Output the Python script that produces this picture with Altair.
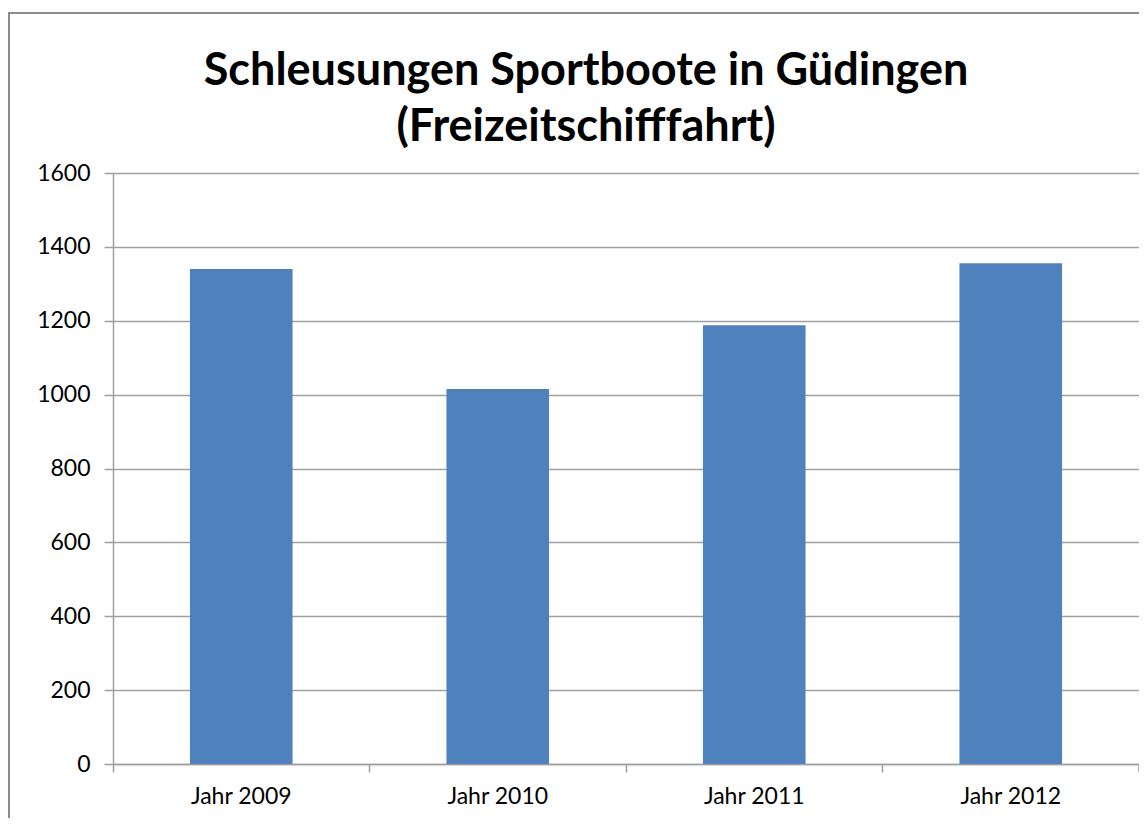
import altair as alt
import pandas as pd

categories = ["Jahr 2009", "Jahr 2010", "Jahr 2011", "Jahr 2012"]
values = [1340, 1015, 1188, 1356]
y_ticks = [0, 200, 400, 600, 800, 1000, 1200, 1400, 1600]
title_lines = ["Schleusungen Sportboote in Güdingen", "(Freizeitschifffahrt)"]

df = pd.DataFrame({"Jahr": categories, "Anzahl": values})

W = 1026
H = 591
FONT = "Lato"
GRID = "#a0a0a0"

bars = alt.Chart(df).mark_bar(
    color="#4f81bd", width=alt.RelativeBandSize(0.4)
).encode(
    x=alt.X(
        "Jahr:N",
        sort=categories,
        scale=alt.Scale(paddingInner=0, paddingOuter=0),
        axis=alt.Axis(
            title=None,
            labelAngle=0,
            bandPosition=0,
            tickSize=8,
            tickColor=GRID,
            domainColor=GRID,
            tickWidth=1.5,
            domainWidth=1.5,
            labelFont=FONT,
            labelFontSize=23,
            labelColor="black",
            labelPadding=13,
        ),
    ),
    y=alt.Y(
        "Anzahl:Q",
        scale=alt.Scale(domain=[0, 1600], nice=False),
        axis=alt.Axis(
            title=None,
            values=y_ticks,
            format="d",
            grid=True,
            gridColor=GRID,
            gridWidth=1.5,
            tickSize=9,
            tickColor=GRID,
            tickWidth=1.5,
            domainColor=GRID,
            domainWidth=1.5,
            labelFont=FONT,
            labelFontSize=23,
            labelColor="black",
            labelPadding=14,
        ),
    ),
)

# last x-axis tick at the right end of the category axis
end_tick = alt.Chart(alt.Data(values=[{}])).mark_rule(
    color=GRID, strokeWidth=1.5
).encode(x=alt.value(W), y=alt.value(H), y2=alt.value(H + 8))

# outer chart frame
frame = alt.Chart(alt.Data(values=[{}])).mark_rect(
    fill=None, stroke="#8c8c8c", strokeWidth=2
).encode(
    x=alt.value(-104), x2=alt.value(W + 60),
    y=alt.value(-160), y2=alt.value(H + 120),
)

chart = alt.layer(frame, bars, end_tick).properties(
    width=W,
    height=H,
    title=alt.Title(
        title_lines,
        font=FONT,
        fontSize=45,
        fontWeight="bold",
        color="black",
        anchor="middle",
        dx=-40,
        dy=164,
        offset=26,
        lineHeight=56,
    ),
    autosize=alt.AutoSizeParams(type="none"),
    padding={"left": 105, "top": 165, "right": 0, "bottom": 54},
).configure_view(stroke=None).configure(background="white")

chart.save("out.html", embed_options={"renderer": "svg", "actions": False})
